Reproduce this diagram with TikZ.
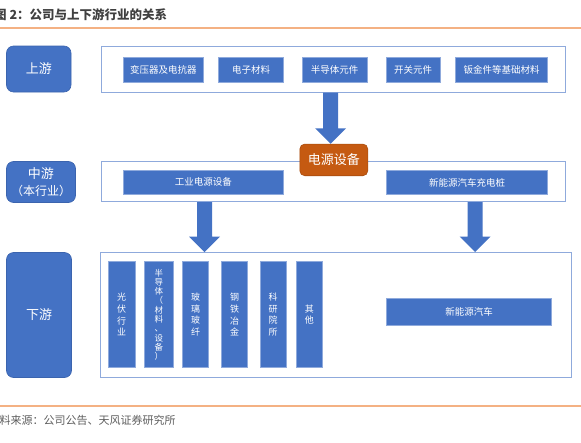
\documentclass[tikz,border=0pt]{standalone}
\usepackage{fontspec}
\setmainfont{Noto Sans CJK SC}
\usetikzlibrary{calc}
\definecolor{blueA}{HTML}{4472C4}
\definecolor{blueE}{HTML}{3B64AE}
\definecolor{contB}{HTML}{8FAADC}
\definecolor{orgA}{HTML}{C55A11}
\definecolor{orgE}{HTML}{A84C0E}
\definecolor{lineO}{HTML}{F4B183}
\definecolor{txtG}{HTML}{404040}
\newcommand\blkarrow[2]{%
  \fill[blueA] let \p1=#1, \p2=#2 in
    (\x1-7.5pt,\y1) -- (\x1+7.5pt,\y1) -- (\x1+7.5pt,\y2+15.5pt) --
    (\x1+15.5pt,\y2+15.5pt) -- (\x1,\y2) -- (\x1-15.5pt,\y2+15.5pt) --
    (\x1-7.5pt,\y2+15.5pt) -- cycle;}
\begin{document}
\begin{tikzpicture}[x=1pt,y=-1pt,
  lab/.style={fill=blueA, draw=blueE, line width=0.6pt, rounded corners=7pt,
    text=white, inner sep=0pt, align=center, font=\fontsize{13}{16.5}\selectfont},
  cont/.style={draw=contB, line width=1pt, fill=white, inner sep=0pt},
  item/.style={fill=blueA, draw=contB, line width=0.5pt, text=white, inner sep=0pt,
    align=center, font=\fontsize{9.5}{11}\selectfont},
  vitem/.style={item, minimum height=106pt, font=\fontsize{9}{11.7}\selectfont},
  pbox/.style={fill=orgA, draw=orgE, line width=0.6pt, rounded corners=5pt,
    text=white, inner sep=0pt, font=\fontsize{13}{15}\selectfont},
  rule/.style={lineO, line width=1.3pt}]
\useasboundingbox (0,0) rectangle (581,442);

% title and source
\node[anchor=west, inner sep=0pt, text=txtG, font=\bfseries\fontsize{12.5}{14}\selectfont] (ttl) at (-6,14.5) {图 2：公司与上下游行业的关系};
\draw[rule] (0,28) -- (581,28);
\draw[rule] (0,406) -- (581,406);
\node[anchor=west, inner sep=0pt, text=txtG!85, font=\fontsize{11}{13}\selectfont] (src) at (-11.5,420) {资料来源：公司公告、天风证券研究所};

% level labels
\node[lab, minimum width=64.5pt, minimum height=46pt] (L1) at (38.75,69) {上游};
\node[lab, minimum width=69pt, minimum height=41pt] (L2) at (41,182) {中游\\{\fontsize{12}{14}\selectfont （本行业）}};
\node[lab, minimum width=65pt, minimum height=125pt] (L3) at (39,315) {下游};

% containers
\node[cont, minimum width=464pt, minimum height=46pt] (C1) at (333.5,69) {};
\node[cont, minimum width=464pt, minimum height=40pt] (C2) at (333.5,181.5) {};
\node[cont, minimum width=470.5pt, minimum height=125pt] (C3) at (335.75,315) {};

% upstream items
\node[item, minimum width=80pt, minimum height=25pt] (u1) at (163.3,69.8) {变压器及电抗器};
\node[item, minimum width=64.6pt, minimum height=25pt] (u2) at (251,69.8) {电子材料};
\node[item, minimum width=65pt, minimum height=25pt] (u3) at (334.5,69.8) {半导体元件};
\node[item, minimum width=54pt, minimum height=25pt] (u4) at (413,69.8) {开关元件};
\node[item, minimum width=91.6pt, minimum height=25pt] (u5) at (501.5,69.8) {钣金件等基础材料};

% midstream items
\node[item, minimum width=160pt, minimum height=24pt] (m1) at (203.3,182) {工业电源设备};
\node[item, minimum width=160.6pt, minimum height=24pt] (m2) at (467,182.5) {新能源汽车充电桩};

% power equipment box
\node[pbox, minimum width=68pt, minimum height=31.7pt] (P) at (333.8,159.9) {电源设备};

% downstream items
\node[vitem, minimum width=26.7pt] (d1) at (121.65,314.7) {光\\伏\\行\\业};
\node[vitem, minimum width=29pt, font=\fontsize{8.5}{9.3}\selectfont] (d2) at (158.8,314.7) {半\\导\\体\\（\\材\\料\\、\\设\\备\\）};
\node[vitem, minimum width=26pt] (d3) at (195.7,314.7) {玻\\璃\\玻\\纤};
\node[vitem, minimum width=25.6pt] (d4) at (234.5,314.7) {钢\\铁\\冶\\金};
\node[vitem, minimum width=25.7pt] (d5) at (273.15,314.7) {科\\研\\院\\所};
\node[vitem, minimum width=25.3pt] (d6) at (309.35,314.7) {其\\他};
\node[item, minimum width=165.4pt, minimum height=27pt] (d7) at (469,311.8) {新能源汽车};

% block arrows
\blkarrow{([xshift=-3pt]C1.south)}{([xshift=-3pt]C1.south |- P.north)}
\blkarrow{([xshift=1.2pt]m1.south |- C2.south)}{([xshift=1.2pt]m1.south |- C3.north)}
\blkarrow{([xshift=8.2pt]m2.south |- C2.south)}{([xshift=8.2pt]m2.south |- C3.north)}
\end{tikzpicture}
\end{document}
